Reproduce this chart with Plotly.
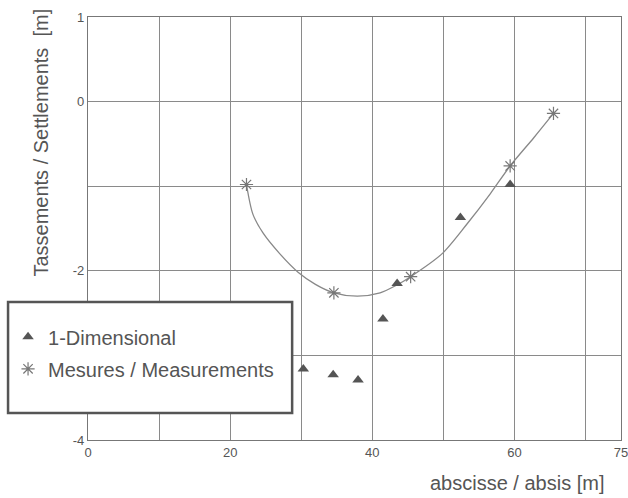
import plotly.graph_objects as go

# Data
one_dim_x = [30.3, 34.5, 38.0, 41.5, 43.5, 52.4, 59.4]
one_dim_y = [-3.16, -3.23, -3.29, -2.57, -2.15, -1.37, -0.98]

meas_x = [22.3, 34.6, 45.4, 59.4, 65.5]
meas_y = [-0.98, -2.26, -2.07, -0.76, -0.14]

curve_x = [22.3, 23.2, 24.6, 27.0, 29.6, 32.0, 34.6, 37.9, 41.1, 43.2, 45.4, 49.8, 53.3, 56.6, 59.4, 62.7, 65.5]
curve_y = [-0.98, -1.33, -1.55, -1.80, -2.02, -2.16, -2.26, -2.30, -2.26, -2.18, -2.07, -1.80, -1.45, -1.09, -0.76, -0.43, -0.14]

x_ticks = [0, 20, 40, 60, 75]
y_ticks = [1, 0, -2, -4]

FONT = "Liberation Sans, Arial, sans-serif"
TXT = "#555555"
GRID = "#8a8a8a"

fig = go.Figure()
fig.add_trace(go.Scatter(x=curve_x, y=curve_y, mode="lines", line=dict(color="#888888", width=1.3, shape="spline", smoothing=0.8),
                         showlegend=False, hoverinfo="skip"))
fig.add_trace(go.Scatter(x=one_dim_x, y=one_dim_y, mode="markers", name="1-Dimensional", legendgroup="a",
                         marker=dict(symbol="triangle-up", size=10, color="#555555")))
fig.add_trace(go.Scatter(x=meas_x, y=meas_y, mode="markers", name="Mesures / Measurements", legendgroup="b",
                         marker=dict(symbol="asterisk-open", size=11, color="#777777", line=dict(color="#777777", width=1.2))))

fig.update_layout(
    width=628, height=498,
    margin=dict(l=88, r=7, t=17, b=58, autoexpand=False),
    paper_bgcolor="white", plot_bgcolor="white",
    font=dict(family=FONT, color=TXT),
    legend=dict(x=-0.150, y=0.29, xanchor="left", yanchor="top", bgcolor="rgba(0,0,0,0)",
                font=dict(size=20, color=TXT), traceorder="grouped", tracegroupgap=3),
    xaxis=dict(range=[0, 75], tickvals=x_ticks, ticktext=[str(v) for v in x_ticks], automargin=False,
               ticklabeloverflow="allow",
               showgrid=True, gridcolor=GRID, gridwidth=1,
               minor=dict(dtick=10, tick0=0, showgrid=True, gridcolor=GRID, gridwidth=1),
               showline=True, mirror=True, linecolor="#777777", linewidth=1.2,
               zeroline=False, ticks="", tickfont=dict(size=13, color=TXT)),
    yaxis=dict(range=[-4, 1], tickvals=y_ticks, ticktext=[str(v) for v in y_ticks], automargin=False,
               ticklabeloverflow="allow",
               showgrid=True, gridcolor=GRID, gridwidth=1,
               minor=dict(dtick=1, tick0=0, showgrid=True, gridcolor=GRID, gridwidth=1),
               showline=True, mirror=True, linecolor="#777777", linewidth=1.2,
               zeroline=False, ticks="", tickfont=dict(size=13, color=TXT)),
    shapes=[dict(type="rect", xref="paper", yref="paper", x0=-0.150, x1=0.383, y0=0.064, y1=0.326,
                 fillcolor="white", line=dict(color="#555555", width=2.5), layer="above")],
    annotations=[
        dict(text="abscisse / absis [m]", xref="paper", yref="paper", x=0.805, y=-0.102,
             showarrow=False, font=dict(size=20, color=TXT), xanchor="center", yanchor="middle"),
        dict(text="Tassements / Settlements  [m]", xref="paper", yref="paper", x=-0.089, y=0.702,
             showarrow=False, textangle=-90, font=dict(size=20, color=TXT), xanchor="center", yanchor="middle"),
    ],
)

fig.write_html("out.html", config={"displayModeBar": False},
               post_script="document.body.style.margin='0px'; document.body.style.overflow='hidden';")
